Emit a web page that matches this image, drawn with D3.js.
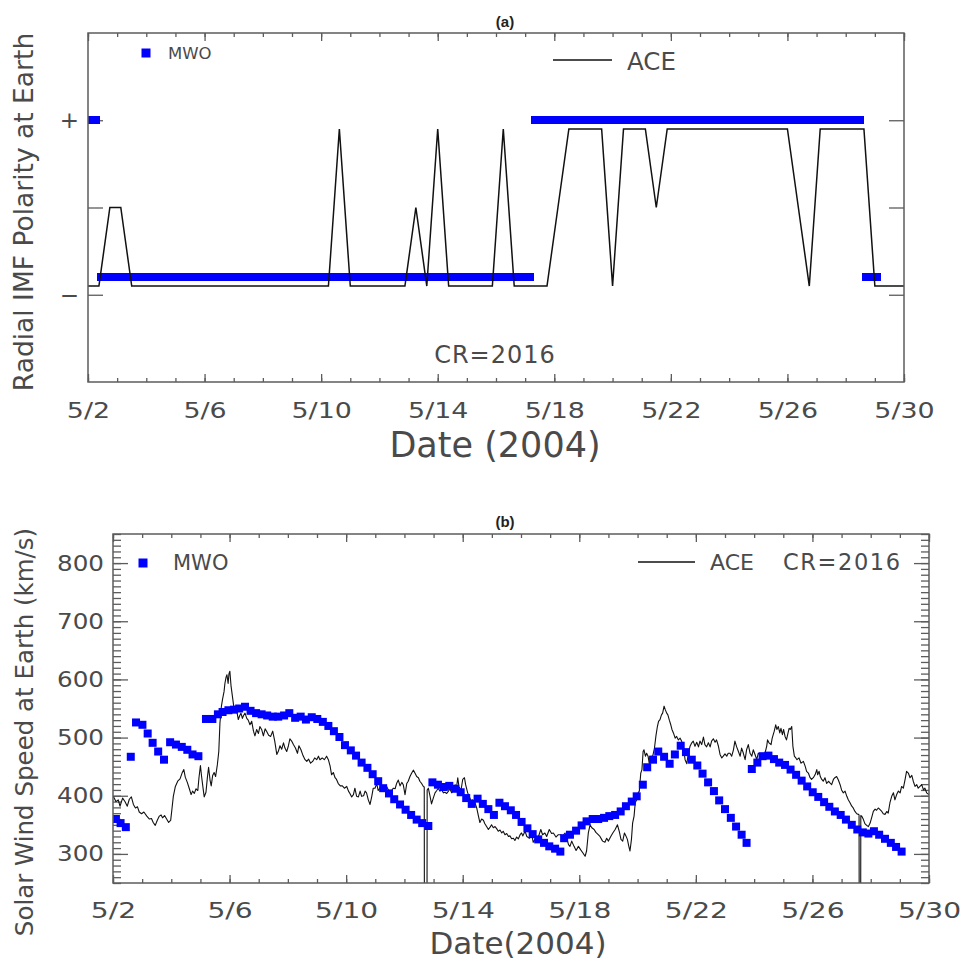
<!DOCTYPE html>
<html>
<head>
<meta charset="utf-8">
<script src="https://cdn.jsdelivr.net/npm/d3@7"></script>
<style>
  html, body { margin: 0; padding: 0; background: #fff; }
  svg { display: block; }
</style>
</head>
<body>
<svg id="chart" width="963" height="962"></svg>
<script>
// ---------------------------------------------------------------
// Data: Carrington rotation 2016, May 2004 (days counted from 5/2 00:00)
// ---------------------------------------------------------------

// date axis
const dateTickDays   = [0, 4, 8, 12, 16, 20, 24, 28];
const dateTickLabels = ["5/2", "5/6", "5/10", "5/14", "5/18", "5/22", "5/26", "5/30"];

// polarity axis
const polarityTicks      = [-1, 0, 1];
const polarityTickLabels = ["\u2212", "", "+"];

// speed axis
const speedTicks = [300, 400, 500, 600, 700, 800];

// ACE radial IMF polarity (9-hour bins)
const aceImfDays = [
  0, 0.375, 0.75, 1.125, 1.5, 1.875, 2.25, 2.625, 3, 3.375,
  3.75, 4.125, 4.5, 4.875, 5.25, 5.625, 6, 6.375, 6.75, 7.125,
  7.5, 7.875, 8.25, 8.625, 9, 9.375, 9.75, 10.125, 10.5, 10.875,
  11.25, 11.625, 12, 12.375, 12.75, 13.125, 13.5, 13.875, 14.25, 14.625,
  15, 15.375, 15.75, 16.125, 16.5, 16.875, 17.25, 17.625, 18, 18.375,
  18.75, 19.125, 19.5, 19.875, 20.25, 20.625, 21, 21.375, 21.75, 22.125,
  22.5, 22.875, 23.25, 23.625, 24, 24.375, 24.75, 25.125, 25.5, 25.875,
  26.25, 26.625, 27, 27.375, 27.75, 28.125
];
const aceImfPolarity = [
  -0.9, -0.9, 0, 0, -0.9, -0.9, -0.9, -0.9, -0.9, -0.9,
  -0.9, -0.9, -0.9, -0.9, -0.9, -0.9, -0.9, -0.9, -0.9, -0.9,
  -0.9, -0.9, -0.9, 0.9, -0.9, -0.9, -0.9, -0.9, -0.9, -0.9,
  0, -0.9, 0.9, -0.9, -0.9, -0.9, -0.9, -0.9, 0.9, -0.9,
  -0.9, -0.9, -0.9, 0, 0.9, 0.9, 0.9, 0.9, -0.9, 0.9,
  0.9, 0.9, 0, 0.9, 0.9, 0.9, 0.9, 0.9, 0.9, 0.9,
  0.9, 0.9, 0.9, 0.9, 0.9, 0, -0.9, 0.9, 0.9, 0.9,
  0.9, 0.9, -0.9, -0.9, -0.9, -0.9
];

// MWO model: times, predicted speed (km/s) and radial IMF polarity
const mwoDays = [
  0.10, 0.26, 0.44, 0.61, 0.79, 1.01, 1.19, 1.36, 1.55, 1.75, 1.96, 2.16, 2.36, 2.55, 2.73, 2.93,
  3.19, 3.41, 3.60, 3.76, 3.96, 4.15, 4.33, 4.53, 4.72, 4.91, 5.10, 5.29, 5.48, 5.67, 5.87, 6.05,
  6.25, 6.44, 6.62, 6.82, 7.01, 7.20, 7.39, 7.58, 7.77, 7.96, 8.16, 8.34, 8.53, 8.73, 8.91, 9.10,
  9.27, 9.47, 9.65, 9.85, 10.04, 10.23, 10.42, 10.61, 10.82,
  10.96, 11.15, 11.35, 11.54, 11.74, 11.93, 12.12, 12.31, 12.51, 12.69, 12.88, 13.07, 13.26, 13.45,
  13.65, 13.83, 14.02, 14.22, 14.40, 14.59, 14.79, 14.97, 15.17, 15.35,
  15.48, 15.68, 15.89, 16.08, 16.25, 16.46, 16.65, 16.85, 17.03, 17.23, 17.42, 17.60, 17.80, 17.97,
  18.18, 18.33, 18.53, 18.71, 18.91, 19.10, 19.28, 19.48, 19.66, 19.86, 20.05, 20.23, 20.42, 20.62,
  20.80, 21.00, 21.20, 21.38, 21.57, 21.74,
  21.92, 22.11, 22.29, 22.49, 22.68, 22.86, 23.06, 23.25, 23.44, 23.63, 23.82, 24.01, 24.20, 24.40,
  24.58, 24.77, 24.97, 25.15, 25.35, 25.54, 25.73, 25.92, 26.11, 26.29, 26.49, 26.69, 26.87, 27.06
];
const mwoSpeed = [
  360, 353, 346, 467, 526, 522, 507, 491, 476, 462, 492, 488, 484, 479, 471, 468,
  532, 532, 540, 544, 547, 548, 550, 553, 546, 542, 540, 538, 536, 536, 538, 542,
  534, 536, 531, 535, 532, 527, 520, 511, 501, 487, 478, 469, 457, 448, 437, 425,
  413, 404, 394, 385, 376, 367, 359, 353, 348,
  423, 419, 415, 417, 412, 406, 396, 386, 395, 386, 377, 367, 388, 382,
  375, 367, 355, 344, 334, 325, 319, 313, 309, 304,
  327, 333, 340, 349, 356, 360, 360, 362, 365, 367, 373, 382, 390, 399,
  419, 449, 462, 476, 467, 455, 471, 486, 475, 462, 452, 438, 423, 408,
  392, 377, 362, 347, 333, 319,
  446, 457, 468, 469, 463, 457, 453, 445, 436, 426, 416, 406, 398, 389,
  381, 373, 367, 359, 350, 342, 337, 335, 339, 333, 326, 319, 312, 304
];
const mwoPolarity = [
  1, 1, -0.8, -0.8, -0.8, -0.8, -0.8, -0.8, -0.8, -0.8, -0.8, -0.8, -0.8, -0.8, -0.8, -0.8,
  -0.8, -0.8, -0.8, -0.8, -0.8, -0.8, -0.8, -0.8, -0.8, -0.8, -0.8, -0.8, -0.8, -0.8, -0.8, -0.8,
  -0.8, -0.8, -0.8, -0.8, -0.8, -0.8, -0.8, -0.8, -0.8, -0.8, -0.8, -0.8, -0.8, -0.8, -0.8, -0.8,
  -0.8, -0.8, -0.8, -0.8, -0.8, -0.8, -0.8, -0.8, -0.8,
  -0.8, -0.8, -0.8, -0.8, -0.8, -0.8, -0.8, -0.8, -0.8, -0.8, -0.8, -0.8, -0.8, -0.8,
  -0.8, -0.8, -0.8, -0.8, -0.8, -0.8, -0.8, -0.8, -0.8, 1,
  1, 1, 1, 1, 1, 1, 1, 1, 1, 1, 1, 1, 1, 1,
  1, 1, 1, 1, 1, 1, 1, 1, 1, 1, 1, 1, 1, 1,
  1, 1, 1, 1, 1, 1,
  1, 1, 1, 1, 1, 1, 1, 1, 1, 1, 1, 1, 1, 1,
  1, 1, 1, 1, 1, 1, 1, 1, 1, 1, 1, -0.8, -0.8, -0.8
];

// ACE measured solar wind speed (day, km/s); 0 marks data dropouts
const aceSpeed = [
  [0.01,399],[0.10,390],[0.18,393],[0.24,382],[0.33,396],[0.41,390],[0.49,382],[0.56,394],[0.63,398],[0.70,385],
  [0.77,379],[0.84,381],[0.90,372],[0.98,369],[1.06,372],[1.16,365],[1.25,360],[1.32,361],[1.38,354],[1.45,349],
  [1.52,358],[1.59,365],[1.65,367],[1.70,362],[1.77,366],[1.84,360],[1.91,354],[1.98,358],[2.02,376],[2.07,399],
  [2.14,416],[2.22,425],[2.30,429],[2.37,439],[2.43,445],[2.48,432],[2.55,423],[2.62,412],[2.68,402],[2.73,408],
  [2.79,404],[2.85,412],[2.91,409],[2.95,431],[3.00,452],[3.04,433],[3.09,413],[3.13,398],[3.19,406],[3.24,432],
  [3.28,449],[3.33,427],[3.37,417],[3.42,435],[3.47,440],[3.52,433],[3.58,453],[3.63,476],[3.67,525],[3.72,554],
  [3.76,566],[3.81,579],[3.84,593],[3.88,604],[3.91,608],[3.95,593],[3.98,610],[4.01,614],[4.05,589],[4.10,570],
  [4.14,555],[4.20,548],[4.26,542],[4.30,531],[4.35,538],[4.39,542],[4.44,533],[4.48,538],[4.53,542],[4.59,533],
  [4.64,530],[4.70,522],[4.76,528],[4.82,511],[4.87,503],[4.93,514],[4.99,507],[5.04,519],[5.10,514],[5.16,503],
  [5.22,515],[5.27,511],[5.34,504],[5.41,502],[5.48,511],[5.55,494],[5.62,471],[5.67,476],[5.73,486],[5.79,480],
  [5.85,491],[5.90,482],[5.96,476],[6.02,486],[6.07,498],[6.13,494],[6.19,488],[6.26,482],[6.33,473],[6.38,486],
  [6.45,479],[6.52,469],[6.59,462],[6.65,459],[6.71,463],[6.78,456],[6.85,459],[6.92,465],[6.99,462],
  [7.05,468],[7.10,462],[7.18,465],[7.25,462],[7.33,468],[7.39,462],[7.45,451],[7.50,436],[7.56,440],[7.62,431],
  [7.67,428],[7.73,421],[7.80,417],[7.87,417],[7.94,413],[8.02,416],[8.08,408],[8.13,404],[8.19,398],[8.25,402],
  [8.30,413],[8.36,399],[8.42,398],[8.48,408],[8.53,399],[8.60,400],[8.65,408],[8.70,405],[8.76,393],[8.82,385],
  [8.88,399],[8.93,413],[8.99,413],[9.05,421],[9.10,409],[9.16,413],[9.22,417],[9.28,408],[9.33,408],[9.39,416],
  [9.45,410],[9.51,406],[9.56,409],[9.62,413],[9.68,412],[9.73,421],[9.79,427],[9.85,417],[9.91,423],[9.96,419],
  [10.02,402],[10.08,421],[10.13,425],[10.19,433],[10.25,439],[10.31,444],[10.36,439],[10.42,433],[10.48,431],[10.53,425],
  [10.59,421],[10.65,416],[10.68,415],[10.69,0],[10.77,0],[10.78,410],[10.82,413],[10.88,399],[10.93,386],[10.99,396],
  [11.05,405],[11.11,409],[11.16,413],[11.22,408],[11.28,410],[11.34,405],[11.39,406],[11.45,404],[11.51,408],[11.56,412],
  [11.62,405],[11.68,409],[11.74,419],[11.79,415],[11.83,431],[11.87,416],[11.94,409],[12.00,428],[12.06,431],[12.10,419],
  [12.17,405],[12.22,399],[12.28,392],[12.35,393],[12.42,388],[12.48,379],[12.54,365],[12.59,354],[12.65,360],[12.71,358],
  [12.76,352],[12.82,347],[12.88,342],[12.94,346],[12.99,350],[13.05,345],[13.11,347],[13.17,343],[13.22,339],[13.28,341],
  [13.34,336],[13.39,339],[13.45,333],[13.51,335],[13.57,330],[13.62,331],[13.68,326],[13.74,327],[13.79,323],[13.85,329],
  [13.91,326],[13.97,333],[14.02,336],
  [14.06,331],[14.14,339],[14.20,330],[14.29,327],[14.37,333],[14.42,320],[14.48,325],[14.54,322],[14.60,330],[14.68,342],
  [14.74,333],[14.82,336],[14.88,330],[14.97,342],[15.05,335],[15.11,336],[15.20,329],[15.28,333],[15.36,333],[15.43,331],
  [15.51,336],[15.57,327],[15.63,316],[15.68,313],[15.74,322],[15.82,313],[15.89,306],[15.97,313],[16.05,307],[16.12,302],
  [16.20,296],[16.25,305],[16.31,336],[16.37,350],[16.43,345],[16.51,342],[16.57,337],[16.65,333],[16.71,330],[16.80,322],
  [16.88,320],[16.94,327],[17.00,322],[17.08,330],[17.15,336],[17.23,342],[17.31,350],[17.37,339],[17.43,325],[17.49,322],
  [17.55,336],[17.60,331],[17.65,325],[17.70,313],[17.74,305],[17.79,325],[17.83,353],[17.88,365],[17.92,388],[17.97,393],
  [18.02,405],[18.06,408],[18.11,439],[18.15,445],[18.19,476],[18.22,479],[18.27,468],[18.31,473],[18.36,468],[18.40,456],
  [18.45,468],[18.52,468],[18.58,482],[18.63,503],[18.68,519],[18.72,528],[18.77,531],[18.82,539],[18.86,542],[18.91,554],
  [18.95,548],[19.00,542],[19.04,539],[19.09,530],[19.14,522],[19.18,514],[19.23,508],[19.29,499],[19.34,502],[19.40,496],
  [19.46,499],[19.51,494],[19.57,485],[19.63,462],[19.69,455],[19.74,473],[19.80,485],[19.86,491],[19.91,494],[19.97,485],
  [20.03,492],[20.09,484],[20.14,494],[20.20,488],[20.26,501],[20.31,488],[20.37,484],[20.43,491],[20.49,484],[20.54,494],
  [20.60,498],[20.66,492],[20.71,496],[20.77,486],[20.83,471],[20.89,465],[20.94,468],[21.00,472],[21.06,468],[21.11,473],
  [21.17,473],[21.23,468],[21.29,479],[21.34,494],[21.40,484],[21.46,476],[21.52,468],[21.57,482],[21.63,473],[21.69,462],
  [21.74,479],[21.80,488],[21.86,473],[21.92,468],[21.97,479],[22.03,471],[22.09,462],[22.14,473],[22.20,471],[22.26,467],
  [22.32,465],[22.37,473],[22.43,485],[22.46,496],[22.51,491],[22.58,488],[22.62,499],[22.69,511],[22.74,522],[22.78,514],
  [22.83,519],[22.88,508],[22.92,516],[22.97,505],[23.01,514],[23.06,502],[23.11,496],[23.15,505],[23.20,516],[23.24,514],
  [23.29,519],[23.33,485],[23.38,468],[23.43,465],[23.47,462],[23.54,465],[23.61,456],[23.69,459],[23.75,451],[23.80,442],
  [23.86,439],[23.92,431],[23.97,428],[24.03,431],[24.09,436],[24.15,445],[24.18,436],[24.23,442],[24.27,433],[24.32,428],
  [24.37,425],[24.43,431],[24.49,421],[24.55,425],[24.60,422],[24.66,419],[24.72,428],[24.77,431],[24.83,433],[24.89,427],
  [24.95,419],[25.00,410],[25.06,405],[25.12,408],[25.18,399],[25.23,393],[25.29,388],[25.35,382],[25.40,379],[25.46,373],
  [25.52,369],[25.58,368],[25.60,367],[25.61,0],[25.65,0],[25.66,366],[25.69,365],[25.75,359],[25.80,352],[25.86,349],
  [25.92,347],[25.98,353],[26.03,362],[26.09,373],[26.15,377],[26.20,375],[26.26,379],[26.32,376],[26.38,373],[26.43,369],
  [26.49,368],[26.55,373],[26.60,370],[26.66,388],[26.72,399],[26.78,405],[26.83,393],[26.89,402],[26.95,408],[27.01,405],
  [27.06,416],[27.12,413],[27.18,428],[27.23,442],[27.29,439],[27.35,431],[27.41,435],[27.46,425],[27.52,416],[27.58,419],
  [27.63,413],[27.69,416],[27.75,419],[27.81,410],[27.86,413],[27.92,405],[28.00,402]
];

// ---------------------------------------------------------------
// Drawing
// ---------------------------------------------------------------
const FONT = "'DejaVu Sans', 'Liberation Sans', sans-serif";
const TEXT_COLOR = "#4a4a4a";
const AXIS_COLOR = "#5c5c5c";
const BLUE = "#0000ff";
const SQ = 8;

const svg = d3.select("#chart");
svg.append("rect").attr("width", 963).attr("height", 962).attr("fill", "#fff");

const boxA = { left: 88, right: 904, top: 33, bottom: 382 };
const boxB = { left: 113, right: 929, top: 534, bottom: 883 };

const xA = d3.scaleLinear().domain([0, 28]).range([boxA.left, boxA.right]);
const yA = d3.scaleLinear().domain([-2, 2]).range([boxA.bottom, boxA.top]);
const xB = d3.scaleLinear().domain([0, 28]).range([boxB.left, boxB.right]);
const yB = d3.scaleLinear().domain([250, 850]).range([boxB.bottom, boxB.top]);

const defs = svg.append("defs");
function clip(id, box) {
  defs.append("clipPath").attr("id", id).append("rect")
    .attr("x", box.left).attr("y", box.top)
    .attr("width", box.right - box.left).attr("height", box.bottom - box.top);
  return `url(#${id})`;
}
const clipA = clip("clipA", boxA);
const clipB = clip("clipB", boxB);

function styleAxis(g) {
  g.select(".domain").remove();
  g.selectAll("line").attr("stroke", AXIS_COLOR).attr("stroke-width", 1.3);
  g.attr("font-family", FONT).attr("fill", TEXT_COLOR);
  g.selectAll("text").attr("fill", TEXT_COLOR);
}

// date axes (bottom labelled, top unlabelled, daily minor ticks)
function dateAxes(x, box, padding, fontSize, stretch) {
  const days = d3.range(0, 29);
  svg.append("g").attr("transform", `translate(0,${box.bottom})`)
    .call(d3.axisBottom(x).tickValues(days).tickSize(-4).tickFormat(""))
    .call(styleAxis);
  svg.append("g").attr("transform", `translate(0,${box.top})`)
    .call(d3.axisTop(x).tickValues(days).tickSize(-4).tickFormat(""))
    .call(styleAxis);
  svg.append("g").attr("transform", `translate(0,${box.top})`)
    .call(d3.axisTop(x).tickValues(dateTickDays).tickSize(-8).tickFormat(""))
    .call(styleAxis);
  const gb = svg.append("g").attr("transform", `translate(0,${box.bottom})`)
    .call(d3.axisBottom(x).tickValues(dateTickDays).tickSize(-8).tickPadding(padding)
      .tickFormat((d, i) => dateTickLabels[i]))
    .call(styleAxis);
  gb.selectAll("text").attr("font-size", fontSize).attr("transform", `scale(${stretch},1)`);
}

// frame
function frame(box) {
  svg.append("rect")
    .attr("x", box.left).attr("y", box.top)
    .attr("width", box.right - box.left).attr("height", box.bottom - box.top)
    .attr("fill", "none").attr("stroke", AXIS_COLOR).attr("stroke-width", 1.5);
}

// ----- panel (a) -----
dateAxes(xA, boxA, 21, 21, 1.28);

const gAL = svg.append("g").attr("transform", `translate(${boxA.left},0)`)
  .call(d3.axisLeft(yA).tickValues(polarityTicks).tickSize(-15).tickPadding(9)
    .tickFormat((d, i) => polarityTickLabels[i]))
  .call(styleAxis);
gAL.selectAll("text").attr("font-size", 23);
svg.append("g").attr("transform", `translate(${boxA.right},0)`)
  .call(d3.axisRight(yA).tickValues(polarityTicks).tickSize(-15).tickFormat(""))
  .call(styleAxis);

const plotA = svg.append("g").attr("clip-path", clipA);
plotA.selectAll("rect.mwo")
  .data(mwoDays.map((d, i) => [d, mwoPolarity[i]]))
  .join("rect").attr("class", "mwo")
  .attr("x", d => xA(d[0]) - SQ / 2).attr("y", d => yA(d[1]) - SQ / 2)
  .attr("width", SQ).attr("height", SQ).attr("fill", BLUE)
  .attr("shape-rendering", "crispEdges");
plotA.append("path")
  .datum(aceImfDays.map((d, i) => [d, aceImfPolarity[i]]))
  .attr("fill", "none").attr("stroke", "#111").attr("stroke-width", 1.5)
  .attr("stroke-linejoin", "miter")
  .attr("d", d3.line().x(d => xA(d[0])).y(d => yA(d[1])));

frame(boxA);

// legend and labels (a)
svg.append("rect").attr("x", 141.5).attr("y", 48.5).attr("width", 9).attr("height", 9).attr("fill", BLUE);
svg.append("text").attr("x", 168).attr("y", 59).text("MWO")
  .attr("font-family", FONT).attr("font-size", 16.5).attr("fill", TEXT_COLOR);
svg.append("line").attr("x1", 553).attr("x2", 612).attr("y1", 60).attr("y2", 60)
  .attr("stroke", "#111").attr("stroke-width", 1.4);
svg.append("text").attr("x", 627).attr("y", 70).text("ACE")
  .attr("font-family", FONT).attr("font-size", 24.5).attr("fill", TEXT_COLOR);
svg.append("text").attr("x", 495).attr("y", 363).attr("text-anchor", "middle").text("CR=2016")
  .attr("font-family", FONT).attr("font-size", 24).attr("letter-spacing", 1).attr("fill", TEXT_COLOR);
svg.append("text").attr("x", 505).attr("y", 27).attr("text-anchor", "middle").text("(a)")
  .attr("font-family", "'Liberation Sans', Arial, sans-serif").attr("font-weight", "bold")
  .attr("font-size", 15).attr("fill", "#222");
svg.append("text").attr("x", 495).attr("y", 457).attr("text-anchor", "middle").text("Date (2004)")
  .attr("font-family", FONT).attr("font-size", 35).attr("fill", TEXT_COLOR);
svg.append("text").attr("transform", "translate(33,212) rotate(-90)").attr("text-anchor", "middle")
  .text("Radial IMF Polarity at Earth")
  .attr("font-family", FONT).attr("font-size", 26.5).attr("fill", TEXT_COLOR);

// ----- panel (b) -----
dateAxes(xB, boxB, 19, 22, 1.28);

const speedMinor = d3.range(250, 851, 10);
svg.append("g").attr("transform", `translate(${boxB.left},0)`)
  .call(d3.axisLeft(yB).tickValues(speedMinor).tickSize(-8).tickFormat(""))
  .call(styleAxis);
svg.append("g").attr("transform", `translate(${boxB.right},0)`)
  .call(d3.axisRight(yB).tickValues(speedMinor).tickSize(-8).tickFormat(""))
  .call(styleAxis);
svg.append("g").attr("transform", `translate(${boxB.right},0)`)
  .call(d3.axisRight(yB).tickValues(speedTicks).tickSize(-15).tickFormat(""))
  .call(styleAxis);
const gBL = svg.append("g").attr("transform", `translate(${boxB.left},0)`)
  .call(d3.axisLeft(yB).tickValues(speedTicks).tickSize(-15).tickPadding(9).tickFormat(d3.format("d")))
  .call(styleAxis);
gBL.selectAll("text").attr("font-size", 22).attr("x", -9 / 1.12).attr("transform", "scale(1.12,1)");

const plotB = svg.append("g").attr("clip-path", clipB);
plotB.append("path")
  .datum(aceSpeed)
  .attr("fill", "none").attr("stroke", "#111").attr("stroke-width", 1.1)
  .attr("stroke-linejoin", "round")
  .attr("d", d3.line().x(d => xB(d[0])).y(d => yB(d[1])));
plotB.selectAll("rect.mwo")
  .data(mwoDays.map((d, i) => [d, mwoSpeed[i]]))
  .join("rect").attr("class", "mwo")
  .attr("x", d => xB(d[0]) - SQ / 2).attr("y", d => yB(d[1]) - SQ / 2)
  .attr("width", SQ).attr("height", SQ).attr("fill", BLUE);

frame(boxB);

// legend and labels (b)
svg.append("rect").attr("x", 138.5).attr("y", 558.5).attr("width", 9).attr("height", 9).attr("fill", BLUE);
svg.append("text").attr("x", 173).attr("y", 570).text("MWO")
  .attr("font-family", FONT).attr("font-size", 21).attr("fill", TEXT_COLOR);
svg.append("line").attr("x1", 638).attr("x2", 695).attr("y1", 562).attr("y2", 562)
  .attr("stroke", "#111").attr("stroke-width", 1.3);
svg.append("text").attr("x", 710).attr("y", 570).text("ACE")
  .attr("font-family", FONT).attr("font-size", 22).attr("fill", TEXT_COLOR);
svg.append("text").attr("x", 783).attr("y", 570).text("CR=2016")
  .attr("font-family", FONT).attr("font-size", 22.5).attr("letter-spacing", 1.6).attr("fill", TEXT_COLOR);
svg.append("text").attr("x", 505).attr("y", 527).attr("text-anchor", "middle").text("(b)")
  .attr("font-family", "'Liberation Sans', Arial, sans-serif").attr("font-weight", "bold")
  .attr("font-size", 15).attr("fill", "#222");
svg.append("text").attr("x", 518).attr("y", 954).attr("text-anchor", "middle").text("Date(2004)")
  .attr("font-family", FONT).attr("font-size", 31).attr("fill", TEXT_COLOR);
svg.append("text").attr("transform", "translate(33,732) rotate(-90)").attr("text-anchor", "middle")
  .text("Solar Wind Speed at Earth (km/s)")
  .attr("font-family", FONT).attr("font-size", 24.5).attr("fill", TEXT_COLOR);
</script>
</body>
</html>
